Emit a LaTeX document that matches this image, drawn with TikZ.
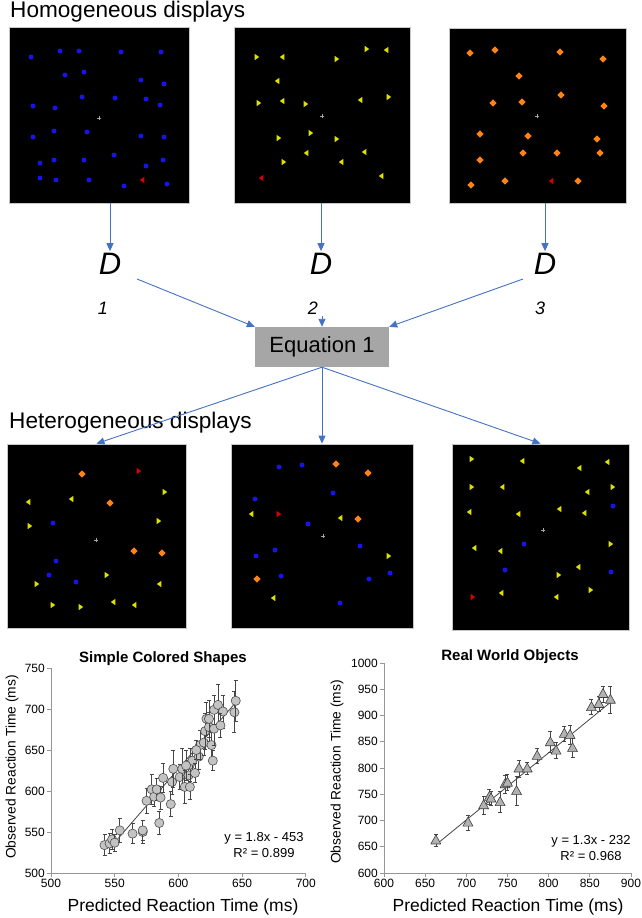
\documentclass[tikz,border=0pt]{standalone}
\usepackage{fontspec}
\setmainfont{Liberation Sans}
\usetikzlibrary{arrows.meta,positioning}
\definecolor{arrowBlue}  {RGB}{68, 114, 196}
\definecolor{stimBlue}   {RGB}{20,  20, 235}
\definecolor{stimYellow} {RGB}{225, 225,  0}
\definecolor{stimOrange} {RGB}{255, 130, 20}
\definecolor{stimRed}    {RGB}{215,   0,  0}
\definecolor{eqGray}     {RGB}{166, 166, 166}
\definecolor{axisGray}   {RGB}{150, 150, 150}
\definecolor{markGray}   {RGB}{195, 195, 195}
\definecolor{lineGray}   {RGB}{70,   70,  70}

\begin{document}
\begin{tikzpicture}[x=1pt,y=-1pt,
          disp/.style={draw=gray!45,fill=black,line width=0.8pt,inner sep=0pt},
          flow/.style={arrowBlue,line width=0.9pt,-{Triangle[length=8pt,width=7pt]}},
          dlab/.style={font=\fontsize{31}{31}\itshape\selectfont,inner sep=2pt},
          nlab/.style={font=\fontsize{18}{18}\itshape\selectfont,inner sep=2pt},
          eqbox/.style={fill=eqGray,minimum width=134pt,minimum height=40pt,
                        font=\fontsize{22}{22}\selectfont},
          head/.style={font=\fontsize{22.6}{23}\selectfont,anchor=base west,inner sep=0pt},
          ticklab/.style={font=\fontsize{12}{12}\selectfont,inner sep=1pt},
          axis/.style={axisGray,line width=0.8pt},
          errbar/.style={lineGray,line width=0.7pt},
          regline/.style={lineGray,line width=0.8pt},
          ptitle/.style={font=\fontsize{15}{15}\bfseries\selectfont},
          ylab/.style={font=\fontsize{13.8}{14}\selectfont,rotate=90},
          xlab/.style={font=\fontsize{17.5}{18}\selectfont},
          fitlab/.style={font=\fontsize{13}{15.5}\selectfont,align=center},
        ]
        \useasboundingbox (0,0) rectangle (642,918);

        % Titulos
        \node[head] (homo) at (10,17) {Homogeneous displays};
        \node[head] (hetero) at (9,428) {Heterogeneous displays};

        % Displays homogeneos
        \node[disp,minimum width=180pt,minimum height=176pt] (p1) at (99,115) {};
        \node[disp,minimum width=176pt,minimum height=176pt] (p2) at (322,115) {};
        \node[disp,minimum width=177pt,minimum height=175pt] (p3) at (537.5,115.5) {};
        % Displays heterogeneos
        \node[disp,minimum width=179pt,minimum height=184pt] (h1) at (96.5,536) {};
        \node[disp,minimum width=182pt,minimum height=184pt] (h2) at (322,536) {};
        \node[disp,minimum width=177pt,minimum height=186pt] (h3) at (540.5,537) {};

        % Fixacao
        \foreach \x/\y in {99/118,322/116,537/116,96/540,323/536,543/530}{
          \draw[gray!70,line width=0.6pt] (\x,\y) ++(-2pt,0) -- ++(4pt,0)
                (\x,\y) ++(0,-2pt) -- ++(0,4pt);
        }
        % Pontos azuis
        \foreach \x/\y in {31/57,60/51,79/51,121/52,161/52,65/75,84/72,141/80,164/84,
                           82/97,115/98,146/99,160/105,33/106,55/108,33/137,54/131,
                           87/132,141/136,164/137,114/155,146/166,163/160,40/163,
                           54/160,84/160,40/178,56/180,89/180,124/186,167/184,
                           53/523,56/561,49/575,76/582,
                           279/467,302/465,333/493,255/499,308/524,360/546,275/550,
                           256/556,281/576,369/579,390/573,340/603,
                           613/506,524/544,505/570,611/572}{
          \fill[stimBlue] (\x,\y) circle[radius=2.5pt];
        }
        % Losangos laranja
        \foreach \x/\y in {470/53,495/50,560/52,603/59,519/76,561/95,493/103,522/102,
                           604/106,480/134,528/136,597/139,523/153,557/153,600/153,
                           480/160,471/185,505/181,578/181,
                           82/474,110/503,134/551,162/553,
                           336/464,368/473,358/519,257/579}{
          \fill[stimOrange] (\x,\y) ++(0,3.6pt) -- ++(3.6pt,-3.6pt) -- ++(-3.6pt,-3.6pt)
                -- ++(-3.6pt,3.6pt) -- cycle;
        }
        % Triangulos amarelos (esquerda)
        \foreach \x/\y in {282/57,386/50,277/81,282/101,360/100,306/153,364/152,341/162,381/176,
                           28/502,71/499,159/584,113/602,134/605,
                           251/514,340/518,273/598,
                           522/461,579/468,607/462,502/487,587/492,469/512,518/514,
                           559/509,584/513,474/548,500/551,578/567,501/593,556/597}{
          \fill[stimYellow] (\x,\y) ++(-2.2pt,0) -- ++(4.6pt,3.2pt) -- ++(0,-6.4pt) -- cycle;
        }
        % Triangulos amarelos (direita)
        \foreach \x/\y in {257/57,337/59,367/49,259/103,306/104,389/97,279/138,311/133,337/139,284/162,
                           165/492,30/526,159/521,107/575,37/584,53/605,81/607,
                           389/556,
                           472/459,472/487,613/487,611/544,559/575,591/590}{
          \fill[stimYellow] (\x,\y) ++(2.2pt,0) -- ++(-4.6pt,3.2pt) -- ++(0,-6.4pt) -- cycle;
        }
        % Alvos vermelhos
        \foreach \x/\y in {142/180,261/178,551/181}{
          \fill[stimRed] (\x,\y) ++(-2.2pt,0) -- ++(4.6pt,3.2pt) -- ++(0,-6.4pt) -- cycle;
        }
        \foreach \x/\y in {139/471,279/514,473/597}{
          \fill[stimRed] (\x,\y) ++(2.2pt,0) -- ++(-4.6pt,3.2pt) -- ++(0,-6.4pt) -- cycle;
        }

        % D e indices
        \node[dlab] (d1) at (110,264) {D};
        \node[dlab] (d2) at (321,264) {D};
        \node[dlab] (d3) at (545,264) {D};
        \node[nlab] (n1) at (103,308) {1};
        \node[nlab] (n2) at (313,308) {2};
        \node[nlab] (n3) at (540,308) {3};
        \node[eqbox] (eq) at (322,347) {Equation 1};
        \coordinate (s1) at (137,279);
        \coordinate (s3) at (523,279);

        % Setas
        \foreach \a/\b in {p1/d1,p2/d2,p3/d3}{
          \draw[flow] (\a.south -| \b.north) -- (\b.north);
        }
        \draw[flow] (s1) -- (eq.north west);
        \draw[flow] (eq.north |- n2.south) -- (eq.north);
        \draw[flow] (s3) -- (eq.north east);
        \foreach \b in {h1,h2,h3}{
          \draw[flow] (eq.south) -- (\b.north);
        }

        % Grafico 1
        \begin{scope}[shift={(-586,1283)},x=1.274pt,y=0.82pt]
          \draw[axis] (500,750) -- (500,500) -- (700,500);
          \foreach \v in {500,550,...,750}{
            \draw[axis] (500,\v) -- ++(-4pt,0);
            \node[ticklab,left=5pt] (ly\v) at (500,\v) {\v};
          }
          \foreach \v in {500,550,...,700}{
            \draw[axis] (\v,500) -- ++(0,-4pt);
            \node[ticklab,below=5pt] (lx\v) at (\v,500) {\v};
          }
          \draw[regline] (546,530) -- (645,708);
          \foreach \x/\y/\e in {542/534/13,546/536/12,548/541/12,550/537/10,554/552/15,
                                564/548/12,572/550/14,572/552/12,575/588/15,579/602/18,
                                581/593/12,583/602/14,585/561/14,586/592/14,588/616/18,
                                594/584/15,595/611/15,596/627/22,601/617/15,603/627/25,
                                605/605/20,608/619/18,609/632/20,609/605/15,611/637/15,
                                613/622/12,616/642/15,617/656/18,620/659/15,621/673/22,
                                622/688/20,624/678/18,624/688/22,626/656/15,627/637/12,
                                628/676/20,628/699/18,631/705/25,635/697/20,633/680/15,
                                644/696/25,645/710/25,606/631/18,614/650/12}{
            \draw[errbar] (\x,\y-\e) -- (\x,\y+\e)
                  (\x,\y+\e) ++(-2pt,0) -- ++(4pt,0)
                  (\x,\y-\e) ++(-2pt,0) -- ++(4pt,0);
            \filldraw[fill=markGray,draw=gray!60!black,line width=0.6pt] (\x,\y) circle[radius=4.6pt];
          }
        \end{scope}
        \node[ptitle] (t1) at (163,659) {Simple Colored Shapes};
        \node[ylab] (yl1) at (12,767) {Observed Reaction Time (ms)};
        \node[xlab] (xl1) at (183,907) {Predicted Reaction Time (ms)};
        \node[fitlab] (f1) at (264,845) {y = 1.8x - 453\\R² = 0.899};

        % Grafico 2
        \begin{scope}[shift={(-110,1188)},x=0.8233pt,y=0.525pt]
          \draw[axis] (600,1000) -- (600,600) -- (900,600);
          \foreach \v in {600,650,...,1000}{
            \draw[axis] (600,\v) -- ++(-4pt,0);
            \node[ticklab,left=5pt] (ry\v) at (600,\v) {\v};
          }
          \foreach \v in {600,650,...,900}{
            \draw[axis] (\v,600) -- ++(0,-4pt);
            \node[ticklab,below=5pt] (rx\v) at (\v,600) {\v};
          }
          \draw[regline] (664,655) -- (875,925);
          \foreach \x/\y/\e in {663/662/12,702/696/14,721/729/17,728/745/15,730/742/14,
                                741/735/20,747/769/17,750/772/15,761/756/28,764/799/16,
                                774/799/12,786/823/15,802/849/20,809/833/15,819/865/15,
                                826/863/18,829/838/18,852/916/14,861/922/15,866/941/15,
                                875/930/25}{
            \draw[errbar] (\x,\y-\e) -- (\x,\y+\e)
                  (\x,\y+\e) ++(-2pt,0) -- ++(4pt,0)
                  (\x,\y-\e) ++(-2pt,0) -- ++(4pt,0);
            \filldraw[fill=gray!60,draw=gray!50!black,line width=0.6pt,line join=round]
                  (\x,\y) ++(0,5.5pt) -- ++(5pt,-9pt) -- ++(-10pt,0) -- cycle;
          }
        \end{scope}
        \node[ptitle] (t2) at (510,657) {Real World Objects};
        \node[ylab] (yl2) at (337,772) {Observed Reaction Time (ms)};
        \node[xlab] (xl2) at (508,907) {Predicted Reaction Time (ms)};
        \node[fitlab] (f2) at (591,848) {y = 1.3x - 232\\R² = 0.968};
      \end{tikzpicture}
\end{document}
